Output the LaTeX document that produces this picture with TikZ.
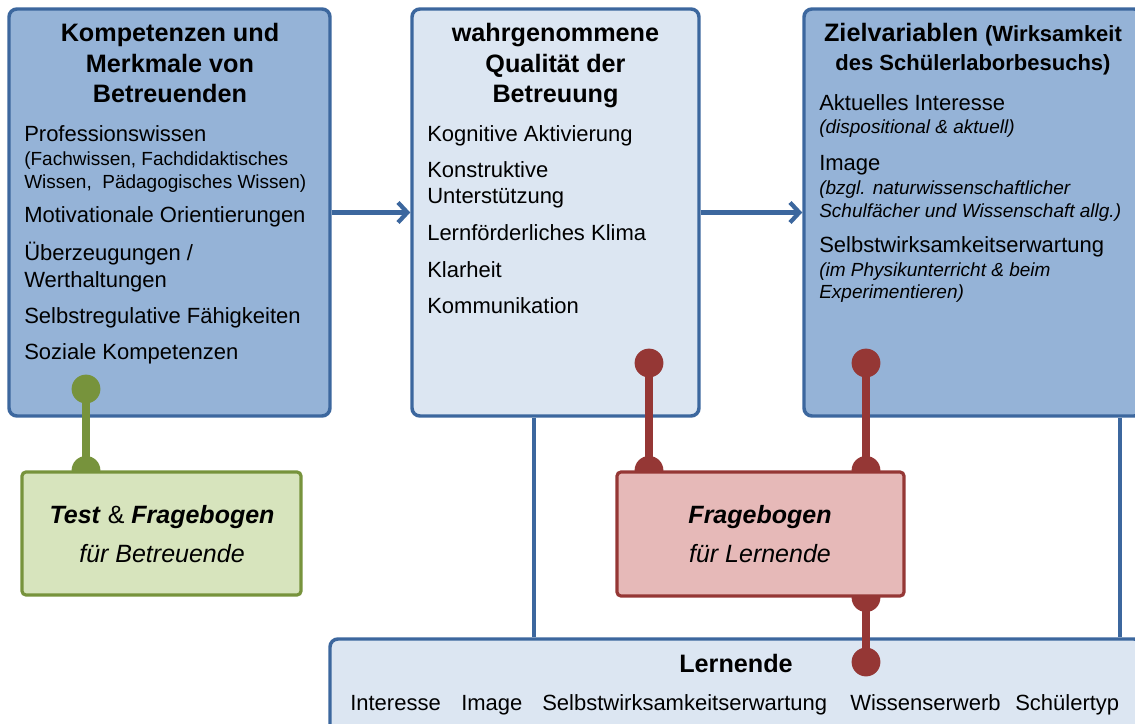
\documentclass[tikz,border=0pt]{standalone}
\usepackage{fontspec}
\setmainfont{Liberation Sans}
\usetikzlibrary{arrows.meta}
\definecolor{bborder}{HTML}{3C679E}
\definecolor{bdark}{HTML}{95B3D7}
\definecolor{blight}{HTML}{DCE6F2}
\definecolor{gfill}{HTML}{D7E4BD}
\definecolor{gline}{HTML}{77933C}
\definecolor{rfill}{HTML}{E6B9B8}
\definecolor{rline}{HTML}{953735}
\newcommand{\mybody}{\fontsize{16.5}{19.8}\selectfont}
\newcommand{\myhead}{\fontsize{18.9}{22.5}\selectfont\bfseries}
\newcommand{\myheadsm}{\fontsize{16.5}{19.8}\selectfont\bfseries}
\newcommand{\mysmall}{\fontsize{14.25}{17}\selectfont}
\pgfdeclarelayer{bg}
\pgfdeclarelayer{mid}
\pgfsetlayers{bg,mid,main}
\begin{document}
\begin{tikzpicture}[x=0.75pt,y=-0.75pt,
  box/.style={draw=bborder, line width=2.6pt, rounded corners=6pt, inner sep=0pt},
  gbox/.style={draw=gline, fill=gfill, line width=2.4pt, rounded corners=3pt, inner sep=0pt},
  rbox/.style={draw=rline, fill=rfill, line width=2.4pt, rounded corners=3pt, inner sep=0pt},
  txt/.style={inner sep=0pt, anchor=base west, font=\mybody},
  stxt/.style={inner sep=0pt, anchor=base west, font=\mysmall},
  htxt/.style={inner sep=0pt, anchor=base, font=\myhead},
  ctxt/.style={inner sep=0pt, anchor=base, font=\fontsize{18.75}{22.5}\selectfont},
  barrow/.style={draw=bborder, line width=3.2pt, -{Straight Barb[length=7pt,width=15pt]}},
  bline/.style={draw=bborder, line width=3pt},
  gconn/.style={draw=gline, line width=6.2pt},
  rconn/.style={draw=rline, line width=6pt}
]
\useasboundingbox (0,0) rectangle (1135,724);
\clip (0,0) rectangle (1135,724);

\begin{pgfonlayer}{bg}
\node[box, fill=bdark, minimum width=321*0.75pt, minimum height=407*0.75pt] (komp) at (169.5,212.5) {};
\node[box, fill=blight, minimum width=287*0.75pt, minimum height=407*0.75pt] (qual) at (555.5,212.5) {};
\node[box, fill=bdark, minimum width=338*0.75pt, minimum height=407*0.75pt] (ziel) at (973,212.5) {};
\node[box, fill=blight, minimum width=812*0.75pt, minimum height=106*0.75pt] (lern) at (736,692) {};
\end{pgfonlayer}

% boxes for instruments
\node[gbox, minimum width=279*0.75pt, minimum height=123*0.75pt] (test) at (161.5,533.5) {};
\node[rbox, minimum width=287*0.75pt, minimum height=124*0.75pt] (frag) at (760.5,534) {};

\begin{pgfonlayer}{mid}
\draw[barrow] (komp.east) -- (qual.west);
\draw[barrow] (qual.east) -- (ziel.west);
\coordinate (v1) at (534,416);
\coordinate (v2) at (1120,416);
\draw[bline] (v1 |- qual.south) -- (v1 |- lern.north);
\draw[bline] (v2 |- ziel.south) -- (v2 |- lern.north);
% green connector
\coordinate (gA) at (86,389);
\draw[gconn] (gA) -- (gA |- test.north);
\fill[gline] (gA) circle[radius=10.8pt];
\fill[gline] (gA |- test.north) circle[radius=10.8pt];
% red connectors
\coordinate (rA) at (649,363);
\coordinate (rB) at (866,363);
\coordinate (rC) at (866,662);
\draw[rconn] (rA) -- (rA |- frag.north);
\fill[rline] (rA) circle[radius=10.8pt];
\fill[rline] (rA |- frag.north) circle[radius=10.8pt];
\draw[rconn] (rB) -- (rB |- frag.north);
\fill[rline] (rB) circle[radius=10.8pt];
\fill[rline] (rB |- frag.north) circle[radius=10.8pt];
\draw[rconn] (rC |- frag.south) -- (rC);
\fill[rline] (rC |- frag.south) circle[radius=10.8pt];
\fill[rline] (rC) circle[radius=10.8pt];
\end{pgfonlayer}

% texts box 1
\node[htxt] (k1) at (170,42) {Kompetenzen und};
\node[htxt] (k2) at (170,73) {Merkmale von};
\node[htxt] (k3) at (170,103) {Betreuenden};
\node[txt] (k4) at (24,142) {Professionswissen};
\node[stxt] (k5) at (24,165) {(Fachwissen, Fachdidaktisches};
\node[stxt] (k6) at (24,188) {Wissen,\ \ Pädagogisches Wissen)};
\node[txt] (k7) at (24,222) {Motivationale Orientierungen};
\node[txt] (k8) at (24,260) {Überzeugungen /};
\node[txt] (k9) at (24,287) {Werthaltungen};
\node[txt] (k10) at (24,323) {Selbstregulative Fähigkeiten};
\node[txt] (k11) at (24,359) {Soziale Kompetenzen};

% texts box 2
\node[htxt] (q1) at (555.5,42) {wahrgenommene};
\node[htxt] (q2) at (555.5,73) {Qualität der};
\node[htxt] (q3) at (555.5,103) {Betreuung};
\node[txt] (q4) at (427,142) {Kognitive Aktivierung};
\node[txt] (q5) at (427,177) {Konstruktive};
\node[txt] (q6) at (427,203) {Unterstützung};
\node[txt] (q7) at (427,240) {Lernförderliches Klima};
\node[txt] (q8) at (427,277) {Klarheit};
\node[txt] (q9) at (427,313) {Kommunikation};

% texts box 3
\node[htxt] (z1) at (973,42) {Zielvariablen {\myheadsm (Wirksamkeit}};
\node[inner sep=0pt, anchor=base, font=\myheadsm] (z2) at (973,70) {des Schülerlaborbesuchs)};
\node[txt] (z3) at (819,110) {Aktuelles Interesse};
\node[stxt, font=\mysmall\itshape] (z4) at (819,133) {(dispositional \& aktuell)};
\node[txt] (z5) at (819,170) {Image};
\node[stxt, font=\mysmall\itshape] (z6) at (819,194) {(bzgl. naturwissenschaftlicher};
\node[stxt, font=\mysmall\itshape] (z7) at (819,217) {Schulfächer und Wissenschaft allg.)};
\node[txt] (z8) at (819,252) {Selbstwirksamkeitserwartung};
\node[stxt, font=\mysmall\itshape] (z9) at (819,276) {(im Physikunterricht \& beim};
\node[stxt, font=\mysmall\itshape] (z10) at (819,298) {Experimentieren)};

% instrument texts
\node[ctxt] (t1) at (162,523) {\textbf{\textit{Test}} \& \textbf{\textit{Fragebogen}}};
\node[ctxt, font=\fontsize{18.75}{22.5}\selectfont\itshape] (t2) at (162,562) {für Betreuende};
\node[ctxt, font=\fontsize{18.75}{22.5}\selectfont\bfseries\itshape] (f1) at (760,523) {Fragebogen};
\node[ctxt, font=\fontsize{18.75}{22.5}\selectfont\itshape] (f2) at (760,562) {für Lernende};

% Lernende texts
\node[htxt] (l0) at (736,672) {Lernende};
\node[txt] (l1) at (350,710) {Interesse};
\node[txt] (l2) at (461,710) {Image};
\node[txt] (l3) at (542,710) {Selbstwirksamkeitserwartung};
\node[txt] (l4) at (850,710) {Wissenserwerb};
\node[txt] (l5) at (1015,710) {Schülertyp};
\end{tikzpicture}
\end{document}
